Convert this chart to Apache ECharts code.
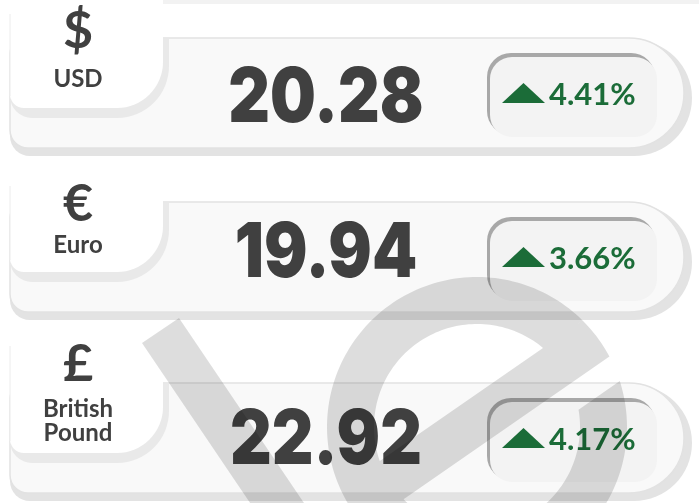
<!DOCTYPE html>
<html>
<head>
<meta charset="utf-8">
<script src="https://cdn.jsdelivr.net/npm/echarts@6/dist/echarts.min.js"></script>
<style>
  html, body { margin: 0; padding: 0; background: #fff; }
  #main { width: 699px; height: 503px; }
</style>
</head>
<body>
<div id="main"></div>
<script>
// exchange rate cards
const currencies = ['USD', 'Euro', 'British\nPound'];
const symbols = ['$', '€', '£'];
const rates = [20.28, 19.94, 22.92];
const changes = [4.41, 3.66, 4.17]; // % up

// card layout
const bodyTop = [38, 202, 383];
const tabTop = [0, 172, 332];
const symbolY = [31, 204, 364];
const labelY = [79, 245, 421];
const rateY = [96, 251, 438];

const TEXT = '#404040';
const GREEN = '#1b6c38';
const WATERMARK = 'rgba(0,0,0,0.135)';

function txt(text, x, y, size, weight, color, align, family) {
    return {
        type: 'text',
        x: x, y: y,
        style: {
            text: text, x: 0, y: 0,
            fill: color,
            fontSize: size, fontWeight: weight,
            fontFamily: family || 'Lato, "Noto Sans", sans-serif',
            lineHeight: 24,
            align: align, verticalAlign: 'middle',
            textAlign: align, textVerticalAlign: 'middle'
        }
    };
}

let elements = [];
// faint shadow of a card above the view
elements.push({ type: 'rect', shape: { x: 130, y: 0, width: 569, height: 4 }, style: { fill: '#f2f2f2' } });

currencies.forEach(function (name, i) {
    const top = bodyTop[i];
    // body + its shadow
    elements.push({ type: 'rect', shape: { x: 10, y: top + 2, width: 682, height: 116, r: [20, 58, 58, 20] }, style: { fill: '#e3e3e3' } });
    elements.push({ type: 'rect', shape: { x: 10, y: top, width: 674, height: 110, r: [16, 55, 55, 18] }, style: { fill: '#f9f9f9', stroke: '#e2e2e2', lineWidth: 1.5 } });
    // white tab with symbol
    elements.push({ type: 'rect', shape: { x: 10, y: top + 1, width: 159, height: 79, r: [0, 0, 52, 22] }, style: { fill: '#e9e9e9' } });
    elements.push({ type: 'rect', shape: { x: 10, y: tabTop[i], width: 153, height: top + 70 - tabTop[i], r: [14, 0, 46, 14] }, style: { fill: '#ffffff' } });
    elements.push({ type: 'line', shape: { x1: 10, y1: tabTop[i] + 14, x2: 10, y2: top + 58 }, style: { stroke: '#ececec', lineWidth: 1 } });
    elements.push(txt(symbols[i], 78, symbolY[i], 52, 'bold', TEXT, 'center'));
    elements.push(txt(name, 78, labelY[i], 24, 'bold', TEXT, 'center'));
    // rate
    const rt = txt(rates[i].toFixed(2), 326, rateY[i] + 3, 76, 900, TEXT, 'center', 'Inter, Lato, sans-serif');
    rt.scaleX = 0.85;
    elements.push(rt);
    // change badge
    elements.push({ type: 'rect', shape: { x: 487, y: top + 15, width: 168, height: 82, r: 24 }, style: { fill: '#a8a8a8' } });
    elements.push({ type: 'rect', shape: { x: 490, y: top + 19, width: 167, height: 80, r: 22 }, style: { fill: '#f3f3f3' } });
    elements.push({ type: 'polygon', shape: { points: [[502, top + 65], [523.5, top + 45], [545, top + 65]] }, style: { fill: GREEN } });
    elements.push(txt(changes[i].toFixed(2) + '%', 549, top + 57, 31, 'bold', GREEN, 'left'));
});

// watermark "e" (one polygon, hole joined by a bridge)
(function () {
    const C = [477, 427], R = 150, r = 103;
    const u = [0.822, -0.570], n = [0.570, 0.822];
    const sU = -27.4, sL = 17.6, sG = 43.6;
    function pt(s, rad, sign) {
        const t = sign * Math.sqrt(rad * rad - s * s);
        return [C[0] + s * n[0] + t * u[0], C[1] + s * n[1] + t * u[1]];
    }
    function ang(p) { return Math.atan2(p[1] - C[1], p[0] - C[0]); }
    function arc(rad, a0, a1) {
        const k = Math.max(8, Math.ceil(Math.abs(a1 - a0) / 0.03));
        const out = [];
        for (let j = 0; j <= k; j++) {
            const a = a0 + (a1 - a0) * j / k;
            out.push([C[0] + rad * Math.cos(a), C[1] + rad * Math.sin(a)]);
        }
        return out;
    }
    const Uo = pt(sU, R, 1), Hr = pt(sU, r, 1), Hl = pt(sU, r, -1);
    const Lo = pt(sL, R, 1), Li = pt(sL, r, -1);
    const Go = pt(sG, R, 1), Gi = pt(sG, r, 1);
    const PI2 = Math.PI * 2;
    let pts = [];
    pts = pts.concat(arc(R, ang(Go), ang(Uo) + PI2));
    pts.push(Hr);
    pts = pts.concat(arc(r, ang(Hr), ang(Hl) - PI2));
    pts.push(Hr, Uo);
    pts = pts.concat(arc(R, ang(Uo) + PI2, ang(Lo) + PI2));
    pts.push(Li);
    pts = pts.concat(arc(r, ang(Li), ang(Gi)));
    elements.push({ type: 'polygon', shape: { points: pts }, style: { fill: WATERMARK } });
    // slanted stroke
    elements.push({ type: 'polygon', shape: { points: [[142, 343], [179, 318], [379, 614], [342, 639]] }, style: { fill: WATERMARK } });
})();

const chart = echarts.init(document.getElementById('main'));
chart.setOption({
    backgroundColor: '#ffffff',
    animation: false,
    graphic: { elements: elements }
});
</script>
</body>
</html>
